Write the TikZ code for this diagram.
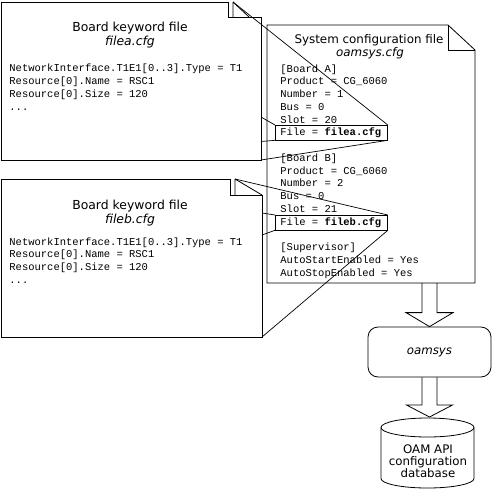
\documentclass[tikz,border=0pt]{standalone}
\usepackage{fontspec}
\setmainfont{DejaVu Sans}
\setmonofont{Liberation Mono}
\usetikzlibrary{calc}
\begin{document}
\begin{tikzpicture}[x=1pt,y=-1pt,line width=0.8pt,
  mono/.style={font=\fontsize{10.5}{12.75}\selectfont\ttfamily,inner sep=0,anchor=base west},
  ttl/.style={font=\fontsize{12.4}{14}\selectfont,inner sep=0,anchor=base},
  ctl/.style={font=\fontsize{11.9}{14}\selectfont,inner sep=0,anchor=base},
  sans/.style={font=\fontsize{11.8}{12}\selectfont,inner sep=0,anchor=base},
  fbox/.style={draw,inner sep=0,minimum width=112pt,minimum height=14.5pt,anchor=north west},
  proc/.style={draw,rounded corners=10pt,inner sep=0,minimum width=123pt,minimum height=50pt,
    font=\fontsize{11.8}{12}\selectfont\itshape},
  callout/.style={line width=0.7pt},
  blk/.style={line width=0.8pt,line join=miter}]
\fill[white] (0,0) rectangle (492,490);
\useasboundingbox (0,0) rectangle (492,490);

% ---------- Board keyword file A ----------
\draw (1,2) -- (228,2) -- (228,17) -- (261,17) -- (261,160) -- (1,160) -- cycle;
\draw (233,2) -- (233,17) (233,2) -- (249,17);
\node[ttl] (atitle) at (130,31) {Board keyword file};
\node[ttl] (aname) at (130,45) {\itshape filea.cfg};
\node[mono] (al1) at (9,71.7) {NetworkInterface.T1E1[0..3].Type = T1};
\node[mono] (al2) at (9,84.5) {Resource[0].Name = RSC1};
\node[mono] (al3) at (9,97.2) {Resource[0].Size = 120};
\node[mono] (al4) at (9,110) {...};

% ---------- Board keyword file B ----------
\draw (1,179) -- (230,179) -- (230,195) -- (262,195) -- (262,337) -- (1,337) -- cycle;
\draw (235,179) -- (235,195) (235,179) -- (262,195);
\node[ttl] (btitle) at (130,209) {Board keyword file};
\node[ttl] (bname) at (130,223) {\itshape fileb.cfg};
\node[mono] (bl1) at (9,245) {NetworkInterface.T1E1[0..3].Type = T1};
\node[mono] (bl2) at (9,257.75) {Resource[0].Name = RSC1};
\node[mono] (bl3) at (9,270.5) {Resource[0].Size = 120};
\node[mono] (bl4) at (9,283.25) {...};

% ---------- System configuration file ----------
\draw (267,25) -- (448,25) -- (475,50) -- (475,283) -- (267,283) -- cycle;
\draw (448,25) -- (448,50) -- (475,50);
\coordinate (cfgb) at (429.5,283);
\node[ctl] (ctitle) at (369,43) {System configuration file};
\node[ctl] (cname) at (370,56) {\itshape oamsys.cfg};
\node[mono] (c0) at (280,72) {[Board A]};
\node[mono] (c1) at (280,84.75) {Product = CG\_6060};
\node[mono] (c2) at (280,97.5) {Number = 1};
\node[mono] (c3) at (280,110.25) {Bus = 0};
\node[mono] (c4) at (280,123) {Slot = 20};
\node[fbox] (fa) at (275,125) {};
\node[mono] (c5) at (280,135.75) {File = \textbf{filea.cfg}};
\node[mono] (c7) at (280,161.25) {[Board B]};
\node[mono] (c8) at (280,174) {Product = CG\_6060};
\node[mono] (c9) at (280,186.75) {Number = 2};
\node[mono] (c10) at (280,199.5) {Bus = 0};
\node[mono] (c11) at (280,212.25) {Slot = 21};
\node[fbox] (fb) at (275,215) {};
\node[mono] (c12) at (280,225) {File = \textbf{fileb.cfg}};
\node[mono] (c14) at (280,250.5) {[Supervisor]};
\node[mono] (c15) at (280,263.25) {AutoStartEnabled = Yes};
\node[mono] (c16) at (280,276) {AutoStopEnabled = Yes};

% ---------- callout lines ----------
\coordinate (aflap) at (233,2);
\coordinate (aedge1) at (261,117);
\coordinate (aedge2) at (261,141.5);
\coordinate (acorner) at (261,160);
\coordinate (bflap) at (235,179);
\coordinate (bedge1) at (262,213);
\coordinate (bedge2) at (262,235);
\coordinate (bcorner) at (262,337);
\draw[callout] (fa.north east) -- (aflap);
\draw[callout] (fa.north west) -- (aedge1);
\draw[callout] (fa.south west) -- (aedge2);
\draw[callout] (fa.south east) -- (acorner);
\draw[callout] (fb.north east) -- (bflap);
\draw[callout] (fb.north west) -- (bedge1);
\draw[callout] (fb.south west) -- (bedge2);
\draw[callout] (fb.south east) -- (bcorner);

% ---------- oamsys ----------
\node[proc] (oam) at (429.5,352) {oamsys};

% ---------- database cylinder ----------
\coordinate (dbin) at (429.5,417);
\draw (427.5,427.5) ellipse [x radius=46.5pt, y radius=9.5pt];
\draw (381,427.5) -- (381,478.5) arc[start angle=180, end angle=360, x radius=46.5pt, y radius=9.5pt] -- (474,427.5);
\node[sans] (d1) at (428,453.5) {OAM API};
\node[sans] (d2) at (428,465.5) {configuration};
\node[sans] (d3) at (428,477.5) {database};

% ---------- block arrows ----------
\draw[blk] ($(cfgb)+(-7.5,0)$) -- ($(oam.north)+(-7.5,-14)$) -- ($(oam.north)+(-23.5,-14)$)
  -- (oam.north) -- ($(oam.north)+(23.5,-14)$) -- ($(oam.north)+(7.5,-14)$) -- ($(cfgb)+(7.5,0)$);
\draw[blk] ($(oam.south)+(-7.5,0)$) -- ($(dbin)+(-7.5,-12)$) -- ($(dbin)+(-23,-12)$)
  -- (dbin) -- ($(dbin)+(23,-12)$) -- ($(dbin)+(7.5,-12)$) -- ($(oam.south)+(7.5,0)$);
\end{tikzpicture}
\end{document}
